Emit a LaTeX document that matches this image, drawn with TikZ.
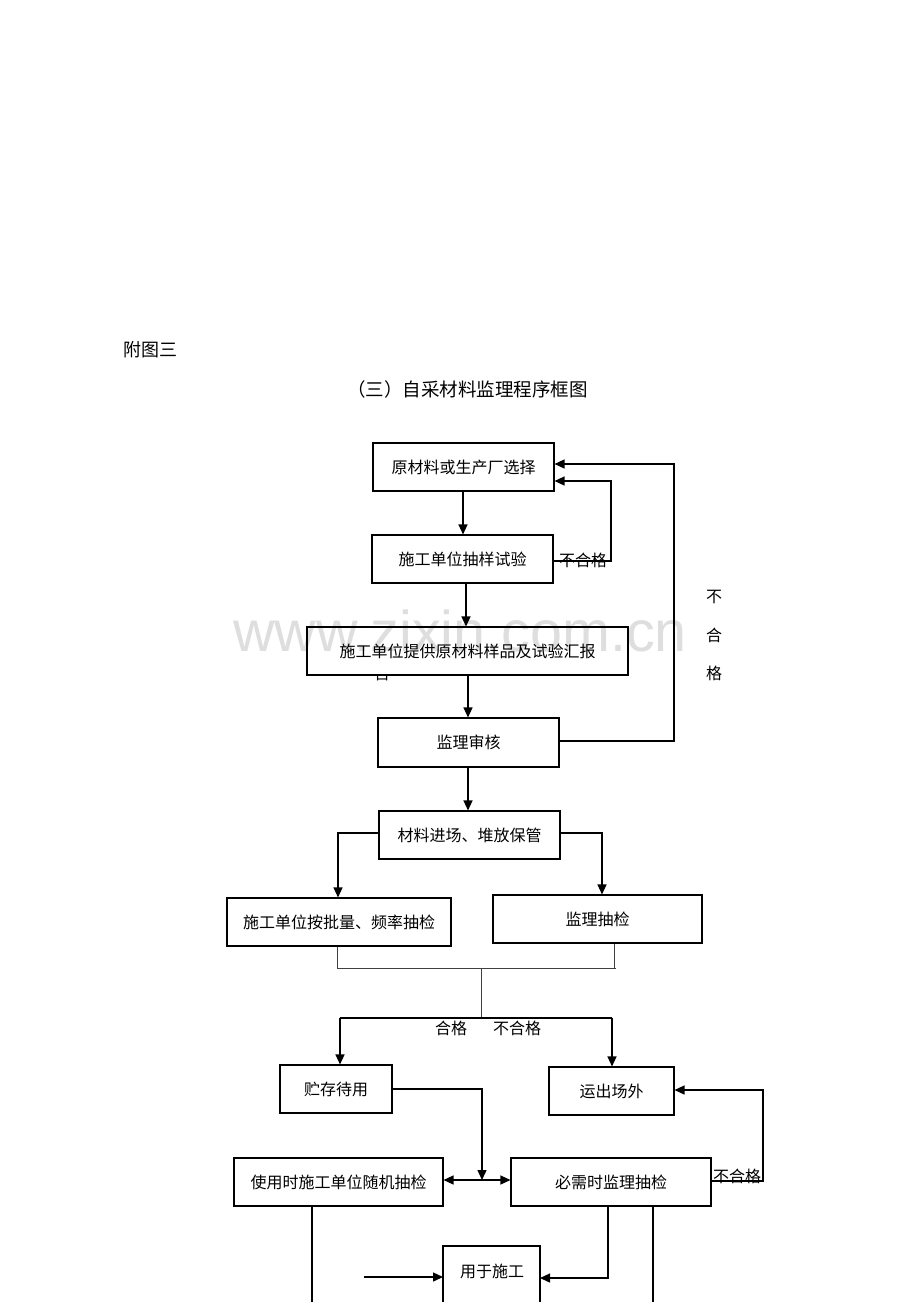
\documentclass[tikz,border=0pt]{standalone}
\usepackage{fontspec}
\newfontfamily\cjk{Noto Sans CJK SC}
\setmainfont{Liberation Sans}
\usetikzlibrary{arrows.meta}
\tikzset{
  box/.style={draw, line width=1.1pt, inner sep=0pt, font=\cjk\fontsize{16}{16}\selectfont},
  lbl/.style={inner sep=0pt, font=\cjk\fontsize{16}{16}\selectfont},
  conn/.style={line width=1.3pt},
  thin/.style={line width=0.9pt, draw=black!75},
  arr/.style={line width=1.3pt, -{Triangle[length=10pt,width=9pt]}},
  darr/.style={line width=1.3pt, {Triangle[length=10pt,width=9pt]}-{Triangle[length=10pt,width=9pt]}},
}
\begin{document}
\begin{tikzpicture}[x=1pt,y=-1pt]
\useasboundingbox (0,0) rectangle (920,1302);
\clip (0,0) rectangle (920,1302);
\fill[white] (0,0) rectangle (920,1302);
% watermark
\node[anchor=base west, inner sep=0pt, text=black!13, font=\fontsize{57.5}{57.5}\selectfont] (wm) at (233,651) {www.zixin.com.cn};
% headings
\node[anchor=west, inner sep=0pt, font=\cjk\fontsize{18}{18}\selectfont] (h1) at (123,350) {附图三};
\node[anchor=west, inner sep=0pt, font=\cjk\fontsize{18.5}{18.5}\selectfont] (h2) at (347,389) {（三）自采材料监理程序框图};
% boxes
\node[box, minimum width=181pt, minimum height=48pt] (b1) at (463.5,467) {原材料或生产厂选择};
\node[box, minimum width=181pt, minimum height=48pt] (b2) at (462.5,559) {施工单位抽样试验};
\begin{scope}
\clip (360,676.5) rectangle (400,700);
\node[lbl] (gao) at (382,673) {告};
\end{scope}
\node[box, minimum width=321pt, minimum height=48pt] (b3) at (467.5,651) {施工单位提供原材料样品及试验汇报};
\node[box, minimum width=181pt, minimum height=49pt] (b4) at (468.5,742.5) {监理审核};
\node[box, minimum width=181pt, minimum height=48pt] (b5) at (469.5,835) {材料进场、堆放保管};
\node[box, minimum width=224pt, minimum height=48pt] (b6) at (339,922) {施工单位按批量、频率抽检};
\node[box, minimum width=209pt, minimum height=48pt] (b7) at (597.5,919) {监理抽检};
\node[box, minimum width=112pt, minimum height=48pt] (b8) at (336,1089) {贮存待用};
\node[box, minimum width=125pt, minimum height=48pt] (b9) at (611.5,1091) {运出场外};
\node[box, minimum width=209pt, minimum height=48pt] (b10) at (338.5,1182) {使用时施工单位随机抽检};
\node[box, minimum width=200pt, minimum height=48pt] (b11) at (611,1182) {必需时监理抽检};
\draw[line width=1.1pt] (443,1320) -- (443,1246) -- (540,1246) -- (540,1320);
\node[lbl] (b12) at (492,1271) {用于施工};
% labels
\node[lbl] (l1) at (583,560) {不合格};
\node[lbl] (l2) at (714,597) {不};
\node[lbl] (l3) at (714,635) {合};
\node[lbl] (l4) at (714,673) {格};
\node[lbl] (l5) at (451,1028) {合格};
\node[lbl] (l6) at (517,1028) {不合格};
\node[lbl] (l7) at (737,1176) {不合格};
% coordinates
\coordinate (j1) at (337,968);
\coordinate (j2) at (614,968);
\coordinate (jm) at (481,968);
\coordinate (s1) at (481,1018);
\coordinate (sl) at (340,1018);
\coordinate (sr) at (612,1018);
\coordinate (u1) at (364,1277);
% connectors
\draw[arr] (b1.south -| 463,0) -- (b2.north -| 463,0);
\draw[arr] (b2.south -| 466,0) -- (b3.north -| 466,0);
\draw[arr] (b3.south -| 468,0) -- (b4.north -| 468,0);
\draw[arr] (b4.south -| 468,0) -- (b5.north -| 468,0);
\draw[arr] (b2.east |- 0,561) -- (611,561) -- (611,481) -- (b1.east |- 0,481);
\draw[arr] (b4.east |- 0,741) -- (674,741) -- (674,464) -- (b1.east |- 0,464);
\draw[arr] (b5.west |- 0,833) -- (338,833) -- (b6.north -| 338,0);
\draw[arr] (b5.east |- 0,833) -- (602,833) -- (b7.north -| 602,0);
\draw[thin] (b6.south -| j1) -- (j1) -- (616,968);
\draw[thin] (b7.south -| j2) -- (j2);
\draw[thin] (jm) -- (s1);
\draw[conn] (sl) -- (sr);
\draw[arr] (sl) -- (b8.north -| sl);
\draw[arr] (sr) -- (b9.north -| sr);
\draw[arr] (b8.east |- 0,1089) -- (482,1089) -- (482,1180);
\draw[darr] (b10.east |- 0,1180) -- (b11.west |- 0,1180);
\draw[arr] (b11.east |- 0,1181) -- (763,1181) -- (763,1090) -- (b9.east |- 0,1090);
\draw[arr] (b11.south -| 608,0) -- (608,1278) -- (540,1278);
\draw[conn] (b11.south -| 653,0) -- (653,1320);
\draw[conn] (b10.south -| 312,0) -- (312,1320);
\draw[arr] (u1) -- (443,1277);
\end{tikzpicture}
\end{document}
